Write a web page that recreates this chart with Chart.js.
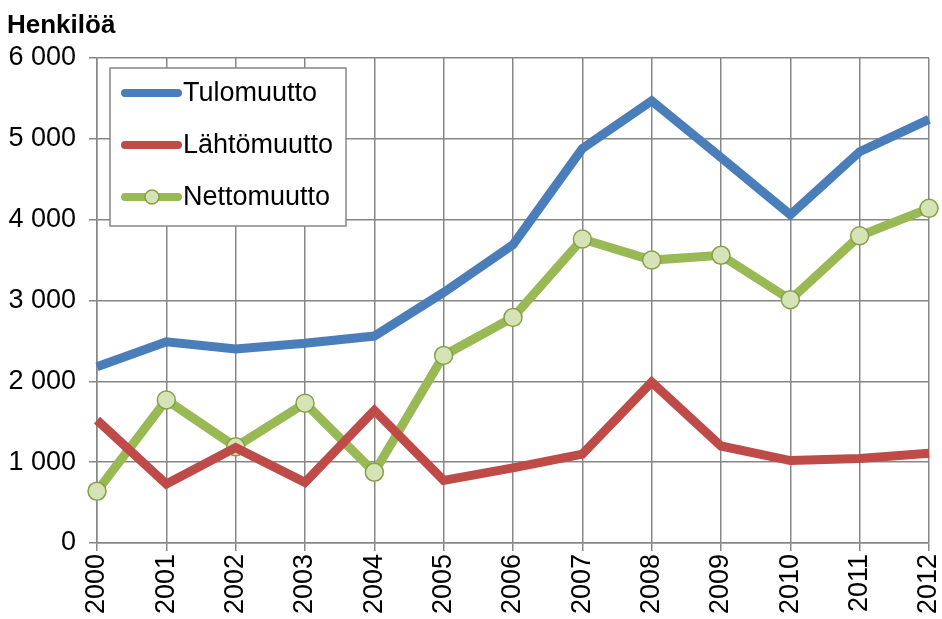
<!DOCTYPE html>
<html>
<head>
<meta charset="utf-8">
<script src="https://cdn.jsdelivr.net/npm/chart.js@4/dist/chart.umd.min.js"></script>
<style>
    html, body { margin: 0; padding: 0; background: #fff; }
    #wrap { width: 942px; height: 619px; }
</style>
</head>
<body>
<div id="wrap"><canvas id="muuttoChart" width="942" height="619"></canvas></div>
<script>
// years and values
const years = ["2000", "2001", "2002", "2003", "2004", "2005", "2006", "2007", "2008", "2009", "2010", "2011", "2012"];
const tulomuutto = [2180, 2490, 2400, 2470, 2560, 3100, 3690, 4880, 5470, 4770, 4060, 4840, 5240];
const lahtomuutto = [1520, 730, 1180, 750, 1640, 775, 930, 1100, 1990, 1200, 1020, 1045, 1110];
const nettomuutto = [640, 1770, 1190, 1730, 875, 2320, 2790, 3760, 3500, 3560, 3010, 3800, 4140];
const yTicks = [0, 1000, 2000, 3000, 4000, 5000, 6000];

const FONT = "'Liberation Sans', Arial, sans-serif";
const GRID = "#878787";

function fmt(v) {
    // "6 000" style thousands separator
    return String(v).replace(/\B(?=(\d{3})+(?!\d))/g, " ");
}

// title + legend box drawn on top of the plot
const extras = {
    id: "extras",
    afterDraw(chart) {
        const ctx = chart.ctx;
        ctx.save();
        ctx.fillStyle = "#000";
        ctx.font = "bold 26px " + FONT;
        ctx.textAlign = "left";
        ctx.textBaseline = "alphabetic";
        ctx.fillText("Henkilöä", 7, 33);

        // legend box
        ctx.fillStyle = "#fff";
        ctx.fillRect(110, 68, 236, 158);
        ctx.strokeStyle = GRID;
        ctx.lineWidth = 1.5;
        ctx.strokeRect(110, 68, 236, 158);

        const rows = [93, 145, 197];
        chart.data.datasets.forEach(function (ds, i) {
            let y = rows[i];
            ctx.strokeStyle = ds.borderColor;
            ctx.lineWidth = 8;
            ctx.lineCap = "round";
            ctx.beginPath();
            ctx.moveTo(125, y);
            ctx.lineTo(178, y);
            ctx.stroke();
            if (ds.pointRadius > 0) {
                ctx.beginPath();
                ctx.arc(152, y, 7, 0, Math.PI * 2);
                ctx.fillStyle = ds.pointBackgroundColor;
                ctx.fill();
                ctx.lineWidth = 1.5;
                ctx.strokeStyle = ds.pointBorderColor;
                ctx.stroke();
            }
            ctx.fillStyle = "#000";
            ctx.font = "27px " + FONT;
            ctx.textBaseline = "middle";
            ctx.fillText(ds.label, 183, y + 1);
        });
        ctx.restore();
    }
};

new Chart(document.getElementById("muuttoChart").getContext("2d"), {
    type: "line",
    data: {
        labels: years,
        datasets: [
            {
                label: "Tulomuutto",
                data: tulomuutto,
                borderColor: "#4a7ebb",
                borderWidth: 9,
                pointRadius: 0,
                tension: 0
            },
            {
                label: "Lähtömuutto",
                data: lahtomuutto,
                borderColor: "#be4b48",
                borderWidth: 9,
                pointRadius: 0,
                tension: 0
            },
            {
                label: "Nettomuutto",
                data: nettomuutto,
                borderColor: "#98b954",
                borderWidth: 9,
                pointRadius: 9,
                pointBackgroundColor: "#d5e3b6",
                pointBorderColor: "#86a045",
                pointBorderWidth: 1.5,
                tension: 0
            }
        ]
    },
    options: {
        responsive: false,
        animation: false,
        layout: { padding: { top: 58, right: 13, left: 0, bottom: 0 } },
        plugins: {
            legend: { display: false },
            tooltip: { enabled: false }
        },
        scales: {
            x: {
                offset: false,
                grid: { color: GRID, lineWidth: 1.5, tickLength: 8, drawTicks: true },
                border: { color: GRID, width: 1.5 },
                ticks: {
                    color: "#000",
                    font: { family: FONT, size: 27 },
                    minRotation: 90,
                    maxRotation: 90,
                    padding: 3,
                    autoSkip: false
                },
                afterFit(scale) {
                    scale.height = 76;
                    scale.paddingLeft = 0;
                    scale.paddingRight = 0;
                }
            },
            y: {
                min: 0,
                max: 6000,
                afterBuildTicks(scale) { scale.ticks = yTicks.map(v => ({ value: v })); },
                grid: { color: GRID, lineWidth: 1.5, tickLength: 8, drawTicks: true },
                border: { color: GRID, width: 1.5 },
                ticks: {
                    color: "#000",
                    font: { family: FONT, size: 27 },
                    padding: 13,
                    callback: function (v) { return fmt(v); }
                },
                afterFit(scale) {
                    scale.width = 97;
                    scale.paddingTop = 0;
                    scale.paddingBottom = 0;
                }
            }
        }
    },
    plugins: [extras]
});
</script>
</body>
</html>
